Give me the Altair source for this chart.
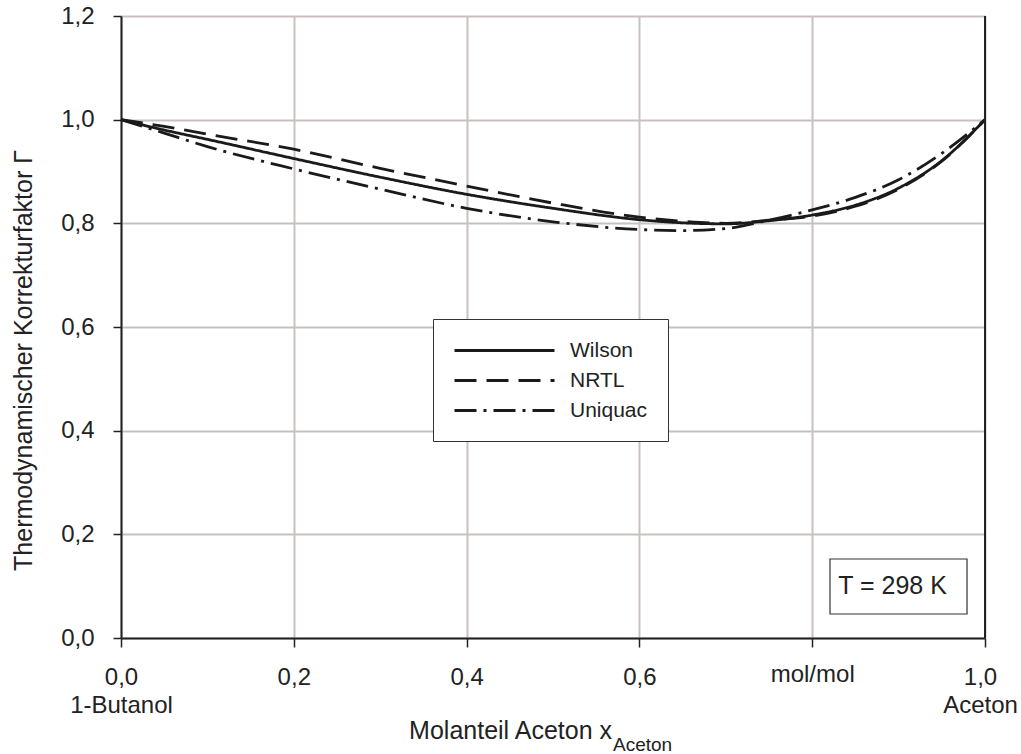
import altair as alt
import pandas as pd

# ---- data ----
x_vals = [0.0, 0.05, 0.1, 0.2, 0.3, 0.4, 0.5, 0.6, 0.65, 0.7, 0.75, 0.8, 0.85, 0.9, 0.95, 1.0]
wilson = [1.0, 0.980, 0.962, 0.925, 0.889, 0.856, 0.829, 0.807, 0.801, 0.799, 0.805, 0.816, 0.835, 0.868, 0.921, 1.0]
nrtl = [1.0, 0.987, 0.972, 0.943, 0.906, 0.872, 0.839, 0.812, 0.804, 0.800, 0.806, 0.814, 0.833, 0.866, 0.920, 1.0]
uniquac = [1.0, 0.974, 0.948, 0.905, 0.866, 0.829, 0.803, 0.788, 0.786, 0.790, 0.806, 0.826, 0.850, 0.884, 0.935, 1.0]
models = ["Wilson", "NRTL", "Uniquac"]

x_ticks = [0.0, 0.2, 0.4, 0.6, 0.8, 1.0]
y_ticks = [0.0, 0.2, 0.4, 0.6, 0.8, 1.0, 1.2]
x_title_main = ["Molanteil Aceton x"]
x_title_sub = ["Aceton"]
y_title = "Thermodynamischer Korrekturfaktor Γ"
temp_label = ["T = 298 K"]

FONT = "Liberation Sans"
W, H = 864, 622

rows = []
for name, ys in zip(models, [wilson, nrtl, uniquac]):
    for xv, yv in zip(x_vals, ys):
        rows.append({"x": xv, "y": yv, "model": name})
df = pd.DataFrame(rows)

x_scale = alt.Scale(domain=[0, 1], nice=False, zero=False)
y_scale = alt.Scale(domain=[0, 1.2], nice=False)

x_label_expr = (
    "datum.value == 0 ? ['0,0', '1-Butanol'] : "
    "(datum.value == 1 ? ['1,0', 'Aceton'] : "
    "(abs(datum.value - 0.8) < 1e-6 ? 'mol/mol' : replace(format(datum.value, '.1f'), '.', ',')))"
)
y_label_expr = "replace(format(datum.value, '.1f'), '.', ',')"

lines = alt.Chart(df).mark_line(
    strokeWidth=2.8, color="#1a1a1a", interpolate="monotone"
).encode(
    x=alt.X("x:Q", scale=x_scale,
            axis=alt.Axis(values=x_ticks, labelExpr=x_label_expr, title=None,
                          tickSize=9,
                          labelPadding={"condition": {"test": "abs(datum.value - 0.8) < 1e-6", "value": 15}, "value": 18},
                          labelOffset={"condition": {"test": "datum.value == 1", "value": -5}, "value": 0},
                          labelLineHeight=28,
                          labelFontSize=24, labelFont=FONT, labelColor="#222",
                          labelFlush=False,
                          domainColor="#222", domainWidth=2, tickColor="#222",
                          tickWidth=1.5, gridColor="#c9c1c1", gridWidth=2,
                          labelOverlap=False)),
    y=alt.Y("y:Q", scale=y_scale,
            axis=alt.Axis(values=y_ticks, labelExpr=y_label_expr, title=y_title,
                          tickSize=8, labelPadding=19, labelFontSize=24,
                          labelFont=FONT, labelColor="#222", titleFont=FONT,
                          titleFontSize=25, titleFontWeight="normal", titleColor="#222",
                          titleX=-98, titleY=H / 2 + 33, titleAngle=-90,
                          titleAlign="center", titleBaseline="middle",
                          domainColor="#222", domainWidth=2, tickColor="#222",
                          tickWidth=1.5, gridColor="#c9c1c1", gridWidth=2)),
    strokeDash=alt.StrokeDash(
        "model:N",
        scale=alt.Scale(domain=models, range=[[1, 0], [22, 10], [22, 7, 3, 7]]),
        legend=alt.Legend(title=None, orient="none", legendX=312, legendY=303,
                          padding=20, strokeColor="#333", fillColor="white",
                          symbolType="M-1,0L9,0", symbolSize=400,
                          symbolStrokeWidth=3, symbolStrokeColor="#1a1a1a",
                          labelFont=FONT, labelFontSize=21, labelColor="#222",
                          labelOffset=94, rowPadding=8),
    ),
)

right_edge = alt.Chart(pd.DataFrame({"x": [1.0]})).mark_rule(
    color="#222", strokeWidth=2
).encode(x=alt.X("x:Q", scale=x_scale), y=alt.value(0), y2=alt.value(H))

box_df = pd.DataFrame({"x1": [0.8206], "x2": [0.9792], "y1": [0.0463], "y2": [0.1524],
                       "xm": [0.893], "ym": [0.0994], "t": temp_label})
box = alt.Chart(box_df).mark_rect(fill="white", stroke="#333", strokeWidth=1.2).encode(
    x=alt.X("x1:Q", scale=x_scale), x2="x2:Q",
    y=alt.Y("y1:Q", scale=y_scale), y2="y2:Q")
box_text = alt.Chart(box_df).mark_text(
    font=FONT, fontSize=25, color="#222", align="center", baseline="middle"
).encode(x=alt.X("xm:Q", scale=x_scale), y=alt.Y("ym:Q", scale=y_scale), text="t:N")

title_main = alt.Chart(pd.DataFrame({"t": x_title_main})).mark_text(
    font=FONT, fontSize=25, color="#222", align="right", baseline="alphabetic"
).encode(x=alt.value(491), y=alt.value(H + 101), text="t:N")
title_sub = alt.Chart(pd.DataFrame({"t": x_title_sub})).mark_text(
    font=FONT, fontSize=19, color="#222", align="left", baseline="alphabetic"
).encode(x=alt.value(492), y=alt.value(H + 113), text="t:N")

chart = alt.layer(lines, right_edge, box, box_text, title_main, title_sub).properties(
    width=W, height=H,
    autosize=alt.AutoSizeParams(type="none"),
    padding={"left": 121, "top": 16, "right": 36, "bottom": 116},
).configure_view(stroke=None).configure(background="white")

chart.save("out.html", embed_options={"renderer": "svg", "actions": False})
